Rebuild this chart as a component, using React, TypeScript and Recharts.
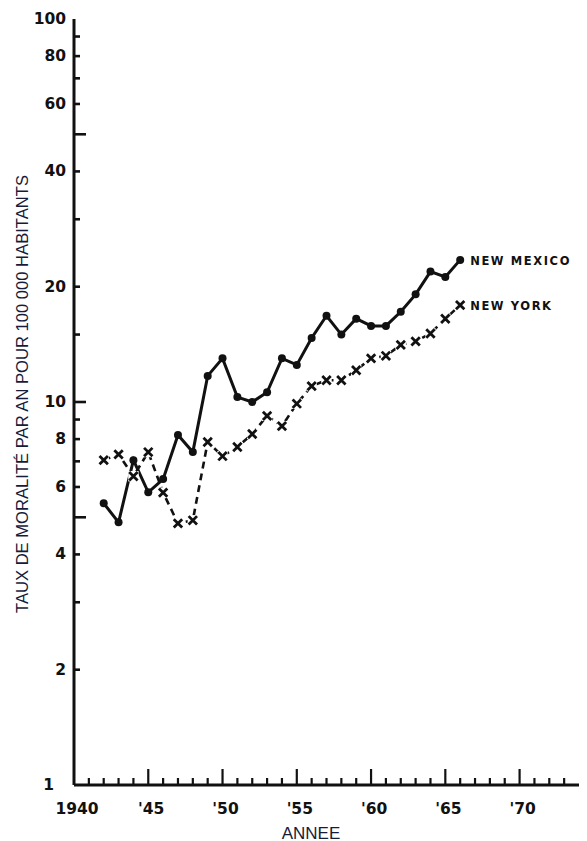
import { LineChart, Line, XAxis, YAxis } from "recharts";

const years = [
    1942, 1943, 1944, 1945, 1946, 1947, 1948, 1949, 1950, 1951, 1952, 1953, 1954,
    1955, 1956, 1957, 1958, 1959, 1960, 1961, 1962, 1963, 1964, 1965, 1966
];
const newMexico = [
    5.44, 4.85, 7.05, 5.81, 6.29, 8.2, 7.4, 11.7, 13.0, 10.3, 10.0, 10.6, 13.0,
    12.5, 14.7, 16.8, 15.0, 16.5, 15.8, 15.8, 17.2, 19.1, 21.9, 21.2, 23.5
];
const newYork = [
    7.05, 7.3, 6.4, 7.4, 5.8, 4.82, 4.91, 7.86, 7.22, 7.63, 8.25, 9.2, 8.65,
    9.9, 11.0, 11.4, 11.4, 12.1, 13.0, 13.2, 14.1, 14.4, 15.1, 16.5, 17.9
];

const yearTicks = Array.from({ length: 34 }, (_, i) => 1940 + i);
const yearLabels: Record<number, string> = {
    1940: "1940", 1945: "'45", 1950: "'50", 1955: "'55", 1960: "'60", 1965: "'65", 1970: "'70"
};
const topTicks = [1945, 1970];
const rateTicks = [1, 2, 3, 4, 5, 6, 7, 8, 9, 10, 15, 20, 30, 40, 50, 60, 70, 80, 90, 100];
const rateLabels = [1, 2, 4, 6, 8, 10, 20, 40, 60, 80, 100];
const longRateTicks = [5, 10, 50];

const data = years.map((year, i) => ({ year, nm: newMexico[i], ny: newYork[i] }));

const INK = "#111";
const TICK_FONT = "'DejaVu Sans', sans-serif";
const TITLE_COLOR = "#161b3a";

function LeftTick(props: any) {
    const { x, y, payload } = props;
    const v = payload.value;
    const len = v === 1 || v === 100 ? 0 : longRateTicks.includes(v) ? 12 : 6;
    return (
        <g>
            {len > 0 && <line x1={x} y1={y} x2={x + len} y2={y} stroke={INK} strokeWidth={2.6} />}
            {rateLabels.includes(v) && (
                <text x={v === 1 ? x - 20 : x - 8} y={y} textAnchor="end" dominantBaseline="central"
                    fontFamily={TICK_FONT} fontWeight="bold" fontSize={15.5} fill={INK}>
                    {v}
                </text>
            )}
        </g>
    );
}

function RightTick(props: any) {
    const { x, y, payload } = props;
    const v = payload.value;
    if (v === 1 || v === 100) return <g />;
    const len = longRateTicks.includes(v) ? 9 : 6;
    return <line x1={x} y1={y} x2={x - len} y2={y} stroke={INK} strokeWidth={2.6} />;
}

function BottomTick(props: any) {
    const { x, y, payload } = props;
    const v = payload.value;
    const len = v === 1940 ? 0 : v % 5 === 0 ? 16 : 7;
    return (
        <g>
            {len > 0 && <line x1={x} y1={y} x2={x} y2={y - len} stroke={INK} strokeWidth={2.2} />}
            {yearLabels[v] && (
                <text x={x + 3} y={y + 24} textAnchor="middle" dominantBaseline="central"
                    fontFamily={TICK_FONT} fontWeight="bold" fontSize={15.5} fill={INK}>
                    {yearLabels[v]}
                </text>
            )}
        </g>
    );
}

function TopTick(props: any) {
    const { x, y } = props;
    return <line x1={x} y1={y} x2={x} y2={y + 7} stroke={INK} strokeWidth={2.2} />;
}

function NmDot(props: any) {
    const { cx, cy, index } = props;
    return <circle key={`nm-${index}`} cx={cx} cy={cy} r={4} fill={INK} stroke="none" />;
}

function NyDot(props: any) {
    const { cx, cy, index } = props;
    const s = 4.2;
    return (
        <g key={`ny-${index}`}>
            <rect x={cx - s - 1} y={cy - s - 1} width={2 * s + 2} height={2 * s + 2} fill="#fff" />
            <path d={`M${cx - s},${cy - s}L${cx + s},${cy + s}M${cx + s},${cy - s}L${cx - s},${cy + s}`}
                stroke={INK} strokeWidth={2.8} />
        </g>
    );
}

function seriesLabel(text: string) {
    return (props: any) => {
        const { x, y, index } = props;
        if (index !== years.length - 1) return null;
        return (
            <text key={text} x={x + 10} y={y + 1} dominantBaseline="central" fontFamily={TICK_FONT}
                fontWeight="bold" fontSize={11.5} letterSpacing={1.6} fill={INK}>
                {text}
            </text>
        );
    };
}

export default function App() {
    return (
        <div style={{ position: "absolute", left: 0, top: 0, width: 587, height: 841, background: "#fff" }}>
            <LineChart width={587} height={841} data={data} margin={{ top: 19, right: 8, left: 0, bottom: 0 }}>
                <XAxis xAxisId="bottom" dataKey="year" type="number" domain={[1940, 1974]} ticks={yearTicks}
                    interval={0} height={56} tickSize={0} tickMargin={0} tickLine={false}
                    axisLine={{ stroke: INK, strokeWidth: 3 }} tick={BottomTick} />
                <XAxis xAxisId="top" orientation="top" dataKey="year" type="number" domain={[1940, 1974]}
                    ticks={topTicks} interval={0} height={0} tickSize={0} tickMargin={0} tickLine={false}
                    axisLine={{ stroke: INK, strokeWidth: 3 }} tick={TopTick} />
                <YAxis yAxisId="left" scale="log" domain={[1, 100]} allowDataOverflow ticks={rateTicks}
                    interval={0} width={74} tickSize={0} tickMargin={0} tickLine={false}
                    axisLine={{ stroke: INK, strokeWidth: 3 }} tick={LeftTick} />
                <YAxis yAxisId="right" orientation="right" scale="log" domain={[1, 100]} allowDataOverflow
                    ticks={rateTicks} interval={0} width={0} tickSize={0} tickMargin={0} tickLine={false}
                    axisLine={{ stroke: INK, strokeWidth: 3 }} tick={RightTick} />
                <Line xAxisId="bottom" yAxisId="left" dataKey="ny" type="linear" stroke={INK}
                    strokeWidth={2.6} strokeDasharray="7 5" dot={NyDot} activeDot={false}
                    label={seriesLabel("NEW YORK")} isAnimationActive={false} />
                <Line xAxisId="bottom" yAxisId="left" dataKey="nm" type="linear" stroke={INK}
                    strokeWidth={3} dot={NmDot} activeDot={false}
                    label={seriesLabel("NEW MEXICO")} isAnimationActive={false} />
                <text x={311} y={833} textAnchor="middle" dominantBaseline="central"
                    fontFamily="'Liberation Sans', Arial, sans-serif" fontSize={17} fill={TITLE_COLOR}>
                    ANNEE
                </text>
                <text x={22} y={394} textAnchor="middle" dominantBaseline="central"
                    transform="rotate(-90 22 394)" fontFamily="'Liberation Sans', Arial, sans-serif"
                    fontSize={16.6} fill={TITLE_COLOR}>
                    TAUX DE MORALITÉ PAR AN POUR 100 000 HABITANTS
                </text>
            </LineChart>
        </div>
    );
}
